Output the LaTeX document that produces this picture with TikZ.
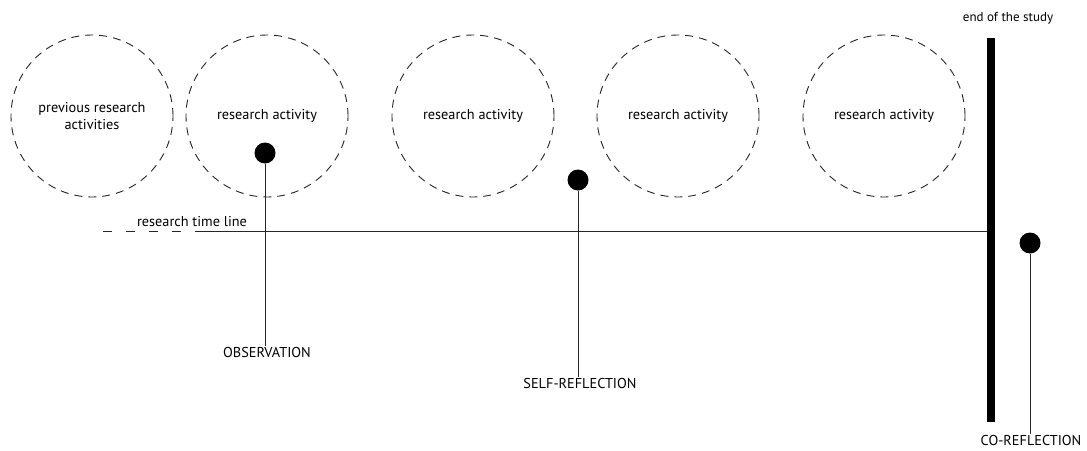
\documentclass[tikz,border=0pt]{standalone}
\usepackage{fontspec}
\setmainfont{PT Sans}
\begin{document}
\begin{tikzpicture}[x=1pt,y=-1pt,
  txt/.style={font=\fontsize{14.3}{17}\selectfont, text=black},
  act/.style={circle, draw=black!85, line width=0.9pt, dash pattern=on 8pt off 6pt,
    minimum size=162pt, inner sep=0pt, align=center, txt},
  dot/.style={circle, fill=black, minimum size=21pt, inner sep=0pt},
  lab/.style={txt, inner sep=1pt},
  stem/.style={draw=black!85, line width=1pt},
  tline/.style={draw=black!85, line width=1pt}]
\useasboundingbox (0,0) rectangle (1087,450);

% activity circles
\node[act] (c1) at (92,116) {previous research\\activities};
\node[act] (c2) at (267,116) {research activity};
\node[act] (c3) at (473,116) {research activity};
\node[act] (c4) at (678,116) {research activity};
\node[act] (c5) at (884,116) {research activity};

% end of study bar
\node[fill=black, minimum width=8pt, minimum height=384pt, inner sep=0pt] (bar) at (991,230) {};
\node[lab, font=\fontsize{13}{15}\selectfont] (end) at (1008,18) {end of the study};

% time line
\coordinate (ts) at (103,231);
\coordinate (tm) at (202,231);
\draw[tline, dash pattern=on 9pt off 14pt] (ts) -- (tm);
\draw[tline] (tm) -- (bar.west |- tm);
\node[lab] (tl) at (192,222) {research time line};

% reflection points
\node[dot] (d1) at (265,153) {};
\node[lab] (obs) at (267,352) {OBSERVATION};
\draw[stem] (d1.south) -- (obs.north -| d1);

\node[dot] (d2) at (578,180) {};
\node[lab] (self) at (580,383) {SELF-REFLECTION};
\draw[stem] (d2.south) -- (self.north -| d2);

\node[dot] (d3) at (1030,243) {};
\node[lab] (co) at (1031,440) {CO-REFLECTION};
\draw[stem] (d3.south) -- (co.north -| d3);
\end{tikzpicture}
\end{document}
